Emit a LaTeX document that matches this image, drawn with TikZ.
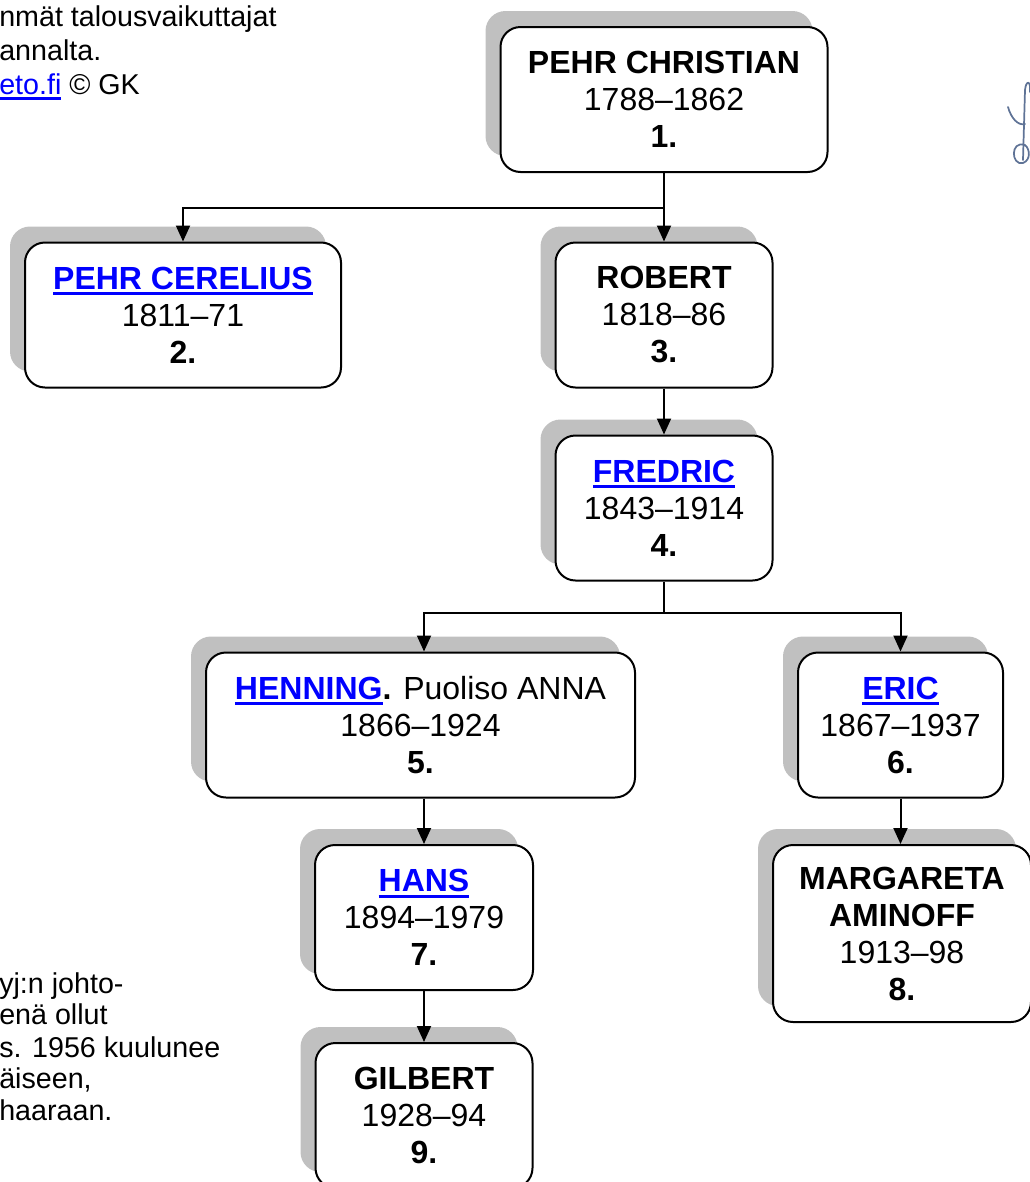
\documentclass[tikz,border=0pt]{standalone}
\usepackage{fontspec}
\setmainfont{Liberation Sans}
\usetikzlibrary{arrows.meta, shadows}

\definecolor{linkblue}{RGB}{0,0,255}
\definecolor{shadowgray}{RGB}{192,192,192}
\definecolor{inkblue}{RGB}{95,115,150}
\newcommand\lnk[1]{{\color{linkblue}\setbox0\hbox{#1}\rlap{\rule[-4.4pt]{\wd0}{2.2pt}}\box0}}

\tikzset{
  person/.style={draw, line width=1.5pt, rounded corners=15pt, fill=white, align=center,
    font=\fontsize{24}{27.75}\selectfont, minimum height=108.75pt, inner sep=0pt,
    drop shadow={shadow xshift=-11.25pt, shadow yshift=12pt, fill=shadowgray, opacity=1}},
  side/.style={font=\fontsize{21.5}{25}\selectfont, inner sep=0pt, anchor=base west},
  link/.style={line width=1.5pt},
  arr/.style={link, -{Triangle[width=10.5pt,length=12pt]}}
}

\begin{document}
\begin{tikzpicture}[x=0.75pt, y=-0.75pt]
\useasboundingbox (0,0) rectangle (1030,1182);
\clip (0,0) rectangle (1030,1182);

% texts at the sides
\node[side] (t1) at (-1,26) {nmät talousvaikuttajat};
\node[side] (t2) at (-1,60) {annalta.};
\node[side] (t3) at (-1,94) {\lnk{eto.fi} © GK};
\node[side] (b1) at (-1,993) {yj:n johto-};
\node[side] (b2) at (-1,1024) {enä ollut};
\node[side] (b3) at (-1,1057) {s. 1956 kuulunee};
\node[side] (b4) at (-1,1088) {äiseen,};
\node[side] (b5) at (-1,1120) {haaraan.};

% the family
\node[person, minimum width=245.25pt] (n1) at (664,99.5) {\textbf{PEHR CHRISTIAN}\\1788–1862\\\textbf{1.}};
\node[person, minimum width=237pt] (n2) at (183,315) {\lnk{\textbf{PEHR CERELIUS}}\\1811–71\\\textbf{2.}};
\node[person, minimum width=162.75pt] (n3) at (664,315) {\textbf{ROBERT}\\1818–86\\\textbf{3.}};
\node[person, minimum width=162.75pt] (n4) at (664,508) {\lnk{\textbf{FREDRIC}}\\1843–1914\\\textbf{4.}};
\node[person, minimum width=321.75pt] (n5) at (420.5,725) {\lnk{\textbf{HENNING}}\textbf{.} Puoliso ANNA\\1866–1924\\\textbf{5.}};
\node[person, minimum width=153.75pt] (n6) at (900.5,725) {\lnk{\textbf{ERIC}}\\1867–1937\\\textbf{6.}};
\node[person, minimum width=163.5pt] (n7) at (424,917.5) {\lnk{\textbf{HANS}}\\1894–1979\\\textbf{7.}};
\node[person, minimum width=193.5pt, minimum height=132.75pt] (n8) at (902,933.5) {\textbf{MARGARETA}\\\textbf{AMINOFF}\\1913–98\\\textbf{8.}};
\node[person, minimum width=162.75pt] (n9) at (424,1115.5) {\textbf{GILBERT}\\1928–94\\\textbf{9.}};

% lines
\coordinate (j1) at (664,208);
\coordinate (j2) at (664,613);
\draw[link] (n1.south) -- (j1);
\draw[arr] (j1) -| (n2.north);
\draw[arr] (j1) -- (n3.north);
\draw[arr] (n3.south) -- (n4.north);
\draw[link] (n4.south) -- (j2);
\draw[arr] (j2) -| (n5.north -| n7.north);
\draw[arr] (j2) -| (n6.north);
\draw[arr] (n5.south -| n7.north) -- (n7.north);
\draw[arr] (n6.south) -- (n6.south |- n8.north);
\draw[arr] (n7.south) -- (n9.north);

% signature
\draw[inkblue, line width=1.3pt, line cap=round]
  (1008,107) .. controls (1011,118) and (1018,126) .. (1025,124)
  (1023,160) -- (1025,90) .. controls (1026,80) and (1031,80) .. (1030,92)
  (1025,145) .. controls (1010,140) and (1011,166) .. (1023,163) .. controls (1031,160) and (1030,149) .. (1025,145);
\end{tikzpicture}
\end{document}
